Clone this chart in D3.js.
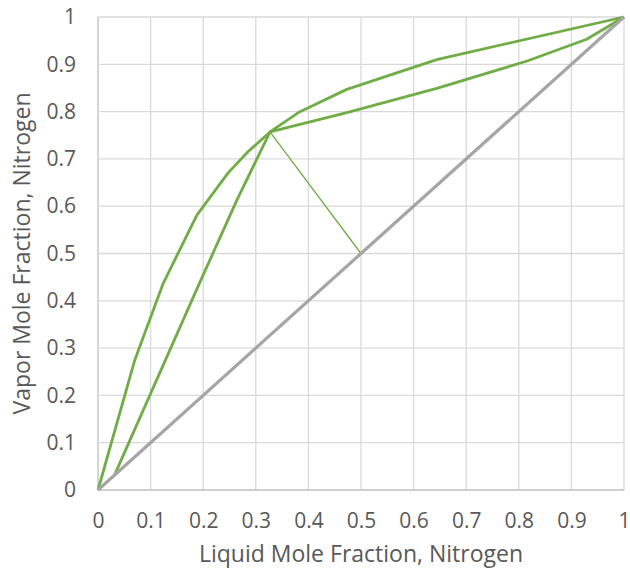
<!DOCTYPE html>
<html>
<head>
<meta charset="utf-8">
<script src="https://cdn.jsdelivr.net/npm/d3@7"></script>
<style>
  body { margin: 0; background: #fff; }
  text { font-family: "Open Sans", "Noto Sans", sans-serif; fill: #595959; }
</style>
</head>
<body>
<div id="chart"></div>
<script>
// equilibrium curve
var eqX = [0, 0.070, 0.124, 0.188, 0.247, 0.285, 0.327, 0.381, 0.473, 0.644, 1];
var eqY = [0, 0.275, 0.437, 0.581, 0.670, 0.715, 0.757, 0.798, 0.847, 0.910, 1];

// operating lines
var opX = [0.032, 0.19, 0.264, 0.327, 0.473, 0.644, 0.816, 0.929, 1];
var opY = [0.033, 0.43, 0.613, 0.757, 0.798, 0.849, 0.907, 0.953, 1];

// q-line
var qX = [0.327, 0.5];
var qY = [0.757, 0.5];

// y = x
var diagX = [0, 1];
var diagY = [0, 1];

var ticks = [0, 0.1, 0.2, 0.3, 0.4, 0.5, 0.6, 0.7, 0.8, 0.9, 1];

var svgWidth = 630;
var svgHeight = 580;

var margin = {
    top: 17,
    right: 6,
    bottom: 90,
    left: 98
};

var chartWidth = svgWidth - margin.left - margin.right;
var chartHeight = svgHeight - margin.top - margin.bottom;

var svg = d3.select("#chart")
    .append("svg")
    .attr("width", svgWidth)
    .attr("height", svgHeight);

var chartGroup = svg.append("g")
    .attr("transform", `translate(${margin.left}, ${margin.top})`);

var xScale = d3.scaleLinear().domain([0, 1]).range([0, chartWidth]);
var yScale = d3.scaleLinear().domain([0, 1]).range([chartHeight, 0]);

// gridlines
chartGroup.selectAll("line.vgrid")
    .data(ticks)
    .enter()
    .append("line")
    .attr("x1", d => xScale(d))
    .attr("x2", d => xScale(d))
    .attr("y1", 0)
    .attr("y2", chartHeight)
    .attr("stroke", d => d === 0 ? "#bfbfbf" : "#d9d9d9")
    .attr("stroke-width", 1.3);

chartGroup.selectAll("line.hgrid")
    .data(ticks)
    .enter()
    .append("line")
    .attr("x1", 0)
    .attr("x2", chartWidth)
    .attr("y1", d => yScale(d))
    .attr("y2", d => yScale(d))
    .attr("stroke", d => d === 0 ? "#bfbfbf" : "#d9d9d9")
    .attr("stroke-width", 1.3);

// tick labels
var bottomAxis = d3.axisBottom(xScale).tickValues(ticks).tickSize(0).tickPadding(23)
    .tickFormat(d3.format("~g"));
var leftAxis = d3.axisLeft(yScale).tickValues(ticks).tickSize(0).tickPadding(22)
    .tickFormat(d3.format("~g"));

var xAxis = chartGroup.append("g")
    .attr("transform", `translate(0, ${chartHeight})`)
    .call(bottomAxis);

var yAxis = chartGroup.append("g")
    .call(leftAxis);

[xAxis, yAxis].forEach(function(ax) {
    ax.select(".domain").remove();
    ax.selectAll("text")
        .attr("fill", "#595959")
        .style("font-family", "'Open Sans', 'Noto Sans', sans-serif")
        .style("font-size", "21px");
});

// series
var makeLine = d3.line()
    .x(d => xScale(d[0]))
    .y(d => yScale(d[1]));

function pts(xs, ys) {
    return xs.map((x, i) => [x, ys[i]]);
}

chartGroup.append("path")
    .attr("d", makeLine(pts(eqX, eqY)))
    .attr("fill", "none")
    .attr("stroke", "#70ad47")
    .attr("stroke-width", 2.8)
    .attr("stroke-linejoin", "round");

chartGroup.append("path")
    .attr("d", makeLine(pts(opX, opY)))
    .attr("fill", "none")
    .attr("stroke", "#70ad47")
    .attr("stroke-width", 2.8)
    .attr("stroke-linejoin", "round");

chartGroup.append("path")
    .attr("d", makeLine(pts(qX, qY)))
    .attr("fill", "none")
    .attr("stroke", "#70ad47")
    .attr("stroke-width", 1.3);

chartGroup.append("path")
    .attr("d", makeLine(pts(diagX, diagY)))
    .attr("fill", "none")
    .attr("stroke", "#a5a5a5")
    .attr("stroke-width", 3.2);

// axis titles
svg.append("text")
    .attr("x", margin.left + chartWidth / 2)
    .attr("y", 562)
    .attr("text-anchor", "middle")
    .style("font-size", "23px")
    .text("Liquid Mole Fraction, Nitrogen");

svg.append("text")
    .attr("transform", `translate(30, ${margin.top + chartHeight / 2}) rotate(-90)`)
    .attr("text-anchor", "middle")
    .style("font-size", "23px")
    .text("Vapor Mole Fraction, Nitrogen");
</script>
</body>
</html>
